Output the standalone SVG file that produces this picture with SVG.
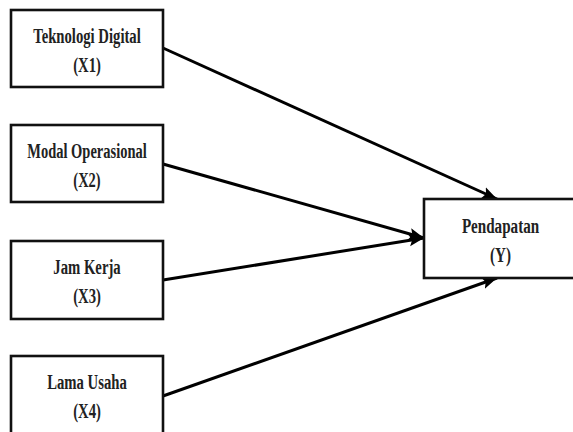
<svg xmlns="http://www.w3.org/2000/svg" width="573" height="432" viewBox="0 0 573 432">
<style>
.box{fill:#fff;stroke:#111;stroke-width:2.6}
.lbl{font-family:"Liberation Serif","Times New Roman",serif;font-weight:bold;font-size:21px;fill:#222;text-anchor:middle}
.edge{stroke:#000;stroke-width:3;fill:none;marker-end:url(#ah)}
</style>
<defs>
<marker id="ah" markerUnits="userSpaceOnUse" markerWidth="16" markerHeight="14" viewBox="0 0 16 14" refX="15" refY="7" orient="auto">
<path d="M0,1 L15,7 L0,13 L3,7 Z" fill="#000"/>
</marker>
</defs>
<rect width="573" height="432" fill="#fff"/>
<g id="edges">
<line class="edge" x1="163" y1="48" x2="497" y2="199"/>
<line class="edge" x1="163" y1="164" x2="424" y2="238"/>
<line class="edge" x1="163" y1="280" x2="424" y2="238"/>
<line class="edge" x1="163" y1="396" x2="497" y2="278"/>
</g>
<g id="x1">
<rect class="box" x="11" y="10" width="152" height="77"/>
<text class="lbl" transform="translate(87,43) scale(0.7,1)">Teknologi Digital</text>
<text class="lbl" transform="translate(87,72) scale(0.7,1)">(X1)</text>
</g>
<g id="x2">
<rect class="box" x="11" y="125" width="152" height="77"/>
<text class="lbl" transform="translate(87,158) scale(0.69,1)">Modal Operasional</text>
<text class="lbl" transform="translate(87,187) scale(0.69,1)">(X2)</text>
</g>
<g id="x3">
<rect class="box" x="11" y="241" width="152" height="78"/>
<text class="lbl" transform="translate(87,274) scale(0.7,1)">Jam Kerja</text>
<text class="lbl" transform="translate(87,303) scale(0.7,1)">(X3)</text>
</g>
<g id="x4">
<rect class="box" x="11" y="356" width="152" height="80"/>
<text class="lbl" transform="translate(87,389) scale(0.7,1)">Lama Usaha</text>
<text class="lbl" transform="translate(87,418) scale(0.7,1)">(X4)</text>
</g>
<g id="y">
<rect class="box" x="424" y="199" width="160" height="79"/>
<text class="lbl" transform="translate(500.5,233) scale(0.72,1)">Pendapatan</text>
<text class="lbl" transform="translate(500.5,262) scale(0.72,1)">(Y)</text>
</g>
</svg>
